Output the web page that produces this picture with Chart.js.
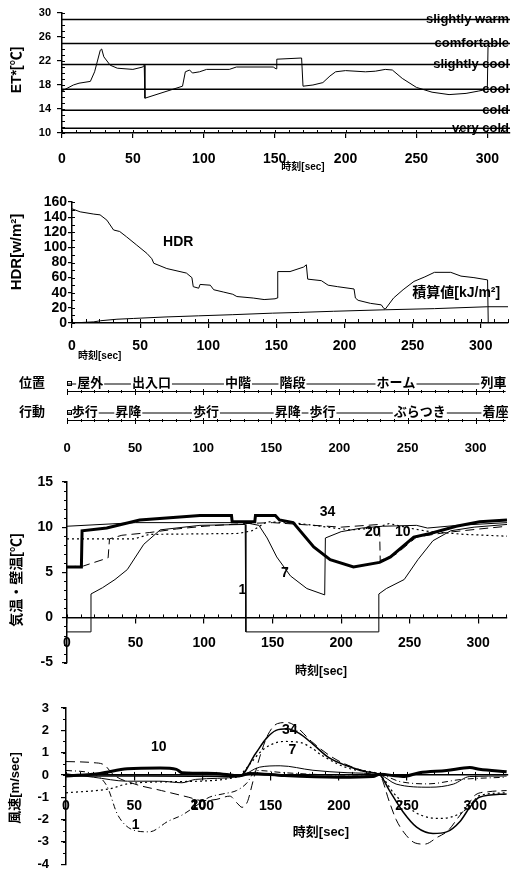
<!DOCTYPE html>
<html lang="ja"><head><meta charset="utf-8"><title>chart</title>
<script src="https://cdn.jsdelivr.net/npm/chart.js@4.4.1/dist/chart.umd.min.js"></script>
<style>
html,body{margin:0;padding:0;background:#fff;overflow:hidden}
#wrap{position:relative;width:515px;height:880px;overflow:hidden;background:#fff}
canvas{position:absolute;left:0}
</style></head><body><div id="wrap">
<canvas id="c1" width="515" height="180" style="top:0px"></canvas>
<canvas id="c2" width="515" height="190" style="top:180px"></canvas>
<canvas id="c3" width="515" height="88" style="top:370px"></canvas>
<canvas id="c4" width="515" height="250" style="top:430px"></canvas>
<canvas id="c5" width="515" height="208" style="top:676px"></canvas>
</div>
<script>
// ================= DATA =================
const xTicks = [0, 50, 100, 150, 200, 250, 300];

// Panel 1: ET*
const etTicks = [10, 14, 18, 22, 26, 30];
const comfortNames = ['slightly warm', 'comfortable', 'slightly cool', 'cool', 'cold', 'very cold'];
const comfortLevels = [28.9, 24.9, 21.4, 17.3, 13.8, 10.8];
const etT = [0, 8, 12, 20, 23, 27, 28, 29.5, 34, 39, 50, 57, 58, 58.5, 85, 87, 90, 92, 97, 102, 118, 123, 149, 151, 151.5, 169, 170, 177, 184, 189, 193, 200, 214, 221, 228, 233, 240, 250, 261, 273, 285, 294, 300, 300.5];
const etV = [17.0, 18.0, 18.3, 18.6, 20.2, 23.8, 24.0, 22.7, 21.3, 20.8, 20.6, 21.0, 21.3, 15.8, 17.8, 20.2, 20.5, 20.0, 20.2, 20.6, 20.6, 21.0, 21.0, 20.7, 22.3, 22.5, 17.8, 18.0, 18.4, 19.5, 20.2, 20.4, 20.2, 20.3, 20.6, 20.5, 19.1, 17.6, 16.8, 16.4, 16.6, 17.0, 17.3, 24.4];

// Panel 2: HDR
const hdrTicks = [0, 20, 40, 60, 80, 100, 120, 140, 160];
const hdrT = [0, 6, 16, 20.6, 25.6, 30.5, 35, 40, 47.5, 55, 58.6, 60, 69.6, 84, 88, 89, 93, 94, 101.5, 104, 111, 118, 121, 133, 141, 149, 150.6, 151, 160, 170, 172, 173, 183, 188, 195, 207, 208, 210, 219, 227, 229, 230, 236, 243, 251, 259, 266, 278, 285.5, 295, 305, 305.5];
const hdrV = [151, 147, 144, 143, 136, 123, 121, 114, 103, 92, 85, 79, 72, 66, 60, 48, 46, 51, 50, 44, 41, 38, 35, 33, 31, 32, 33, 68, 68, 74, 77, 58, 56, 50, 48, 45, 33, 30, 26, 24, 19, 18.5, 33, 44, 55, 61, 67, 67, 62, 60, 57, 0];
const cumT = [0, 16, 21, 33, 45, 69, 93, 118, 147, 167, 192, 230, 266, 305, 321];
const cumV = [0, 1.5, 3, 5, 6, 8, 9.5, 11, 13, 14, 15.5, 17.5, 19, 21.5, 21.5];
const hdrLabText = ['HDR', '積算値[kJ/m²]'];
const hdrLabT = [78, 282];
const hdrLabV = [107, 40];

// Panel 3: position / action
const rowLabels = ['位置', '行動'];
const posNames = ['屋外', '出入口', '中階', '階段', 'ホーム', '列車'];
const posT = [17, 62, 125.5, 165.5, 241.5, 313];
const actNames = ['歩行', '昇降', '歩行', '昇降', '歩行', 'ぶらつき', '着座'];
const actT = [13, 45, 102, 162, 187.5, 259, 314.5];

// Panel 4: air / wall temperature
const tempTicks = [-5, 0, 5, 10, 15];
const t10 = [0, 10.5, 11, 29, 53, 97, 120, 120.5, 137, 137.5, 152, 155, 165, 180, 192, 209, 228, 236, 253, 265, 284, 301, 321];
const v10 = [5.6, 5.6, 9.6, 9.9, 10.8, 11.3, 11.3, 10.6, 10.6, 11.3, 11.3, 10.8, 10.5, 7.8, 6.4, 5.6, 6.1, 6.7, 8.9, 9.3, 10.1, 10.6, 10.8];
const t1 = [0, 17, 17.5, 26, 35, 44, 56, 68, 97, 130, 130.5, 227, 227.5, 233, 246, 256, 267, 280, 297, 321];
const v1 = [-1.6, -1.6, 2.6, 3.3, 4.2, 5.3, 8.1, 9.7, 10.2, 10.3, -1.6, -1.6, 2.6, 3.2, 4.2, 6.4, 8.5, 9.6, 10.0, 10.3];
const t7 = [0, 50, 100, 130, 140, 146, 153, 163, 175, 188, 188.5, 200, 215, 230, 255, 263, 285, 321];
const v7 = [10.1, 10.5, 10.5, 10.5, 10.2, 8.8, 6.7, 4.6, 3.2, 2.5, 8.8, 9.5, 9.9, 10.1, 10.2, 9.9, 10.2, 10.5];
const t20 = [0, 12, 26, 30, 31, 40, 60, 80, 100, 130, 150, 170, 200, 228, 228.5, 240, 255, 276, 301, 321];
const v20 = [5.6, 5.7, 6.4, 6.6, 8.7, 9.1, 9.4, 9.8, 10.1, 10.4, 10.5, 10.3, 10.0, 10.3, 6.3, 7.0, 8.9, 9.4, 9.8, 10.1];
const t34 = [0, 49, 60, 125, 135, 146, 170, 195, 207, 225, 235, 253, 265, 290, 321];
const v34 = [8.7, 8.7, 9.2, 9.3, 9.6, 10.6, 10.4, 9.9, 9.7, 9.9, 10.4, 9.8, 9.5, 9.2, 9.0];
const tempLabText = ['34', '20', '10', '7', '1'];
const tempLabT = [190, 223, 245, 159, 128];
const tempLabV = [11.7, 9.5, 9.5, 4.9, 3.0];

// Panel 5: wind speed
const windTicks = [-4, -3, -2, -1, 0, 1, 2, 3];
const w10T = [0, 25, 45, 69, 81, 85, 109, 127, 135, 160, 200, 225, 230, 247, 259, 279, 296, 303, 323];
const w10V = [-0.05, 0.07, 0.28, 0.31, 0.25, 0.1, 0.07, -0.04, 0.07, -0.03, -0.1, -0.07, 0.03, -0.07, 0.1, 0.2, 0.33, 0.26, 0.14];
const wThinT = [0, 20, 45, 69, 85, 95, 127, 142, 157, 181, 206, 230, 242, 267, 284, 296, 323];
const wThinV = [0.05, -0.1, -0.28, -0.28, -0.35, -0.2, -0.07, 0.35, 0.41, 0.21, 0.1, 0, -0.41, -0.55, -0.41, -0.07, -0.05];
const w34T = [0, 60, 127, 139, 147, 154, 162, 171, 181, 193, 206, 220, 230, 237, 247, 257, 269, 279, 289, 296, 303, 323];
const w34V = [-0.05, -0.05, -0.07, 0.96, 1.65, 2.0, 2.07, 1.86, 1.38, 0.76, 0.41, 0.14, 0, -0.69, -1.65, -2.34, -2.62, -2.55, -2.07, -1.45, -1.0, -0.85];
const w7T = [0, 32, 45, 80, 125, 135, 142, 150, 160, 172, 181, 188, 210, 230, 240, 250, 260, 275, 289, 296, 303, 323];
const w7V = [-0.8, -0.62, -0.4, -0.3, -0.1, 0.5, 1.0, 1.35, 1.5, 1.45, 1.17, 0.86, 0.25, 0, -0.8, -1.4, -1.8, -1.95, -1.72, -1.38, -0.93, -0.8];
const w1T = [0, 20, 30, 38, 51, 61, 75, 85, 95, 105, 115, 125, 132, 140, 160, 200, 230, 245, 265, 290, 323];
const w1V = [0.2, 0.05, -0.5, -1.8, -2.5, -2.55, -2.07, -1.8, -1.4, -1.0, -0.85, -0.7, -0.4, 0.2, 0.1, 0, 0, -0.3, -0.4, -0.2, -0.1];
const w20T = [0, 20, 28, 35, 50, 70, 90, 100, 110, 120, 126, 129, 133, 137, 142, 148, 155, 162, 168, 180, 195, 210, 225, 230, 237, 242, 248, 256, 263, 272, 280, 287, 294, 300, 310, 323];
const w20V = [0.6, 0.55, 0.45, 0.0, -0.4, -0.7, -1.0, -1.15, -1.1, -0.95, -1.3, -1.45, -1.2, -0.3, 0.8, 1.8, 2.3, 2.35, 2.2, 1.5, 0.8, 0.35, 0.1, 0, -1.2, -2.0, -2.6, -3.05, -3.1, -2.8, -2.5, -1.95, -1.4, -0.9, -0.75, -0.7];
const windLabText = ['10', '34', '7', '1', '20'];
const windLabT = [68, 164, 166, 51, 97];
const windLabV = [1.24, 2.0, 1.1, -2.27, -1.36];

// ================= HELPERS =================
const MIX = '"Liberation Sans", "Noto Sans CJK JP", Arial, sans-serif';
const bold = s => `bold ${s}px ${MIX}`;
const pts = (T, V) => T.map((t, i) => ({x: t, y: V[i]}));
function line(label, T, V, w, dash, extra) {
  return Object.assign({label, data: pts(T, V), borderColor: '#000', backgroundColor: '#000',
    borderWidth: w, borderDash: dash || [], pointRadius: 0, fill: false, tension: 0}, extra || {});
}
function xAxis(max, h, pad, fs, extra) {
  return Object.assign({
    type: 'linear', min: 0, max: max, position: 'bottom',
    afterBuildTicks: s => { s.ticks = xTicks.map(v => ({value: v})); },
    afterFit: s => { s.height = h; },
    border: {display: true, color: '#000', width: 1.5},
    grid: {display: true, drawOnChartArea: false, drawTicks: true, tickLength: 5, color: '#000', lineWidth: 1.2},
    ticks: {color: '#000', font: {family: MIX, size: fs, weight: 'bold'}, padding: pad, maxRotation: 0, autoSkip: false}
  }, extra || {});
}
function yAxis(min, max, tv, w, pad, fs, tl) {
  return {
    type: 'linear', min, max, position: 'left',
    afterBuildTicks: s => { s.ticks = tv.map(v => ({value: v})); },
    afterFit: s => { s.width = w; },
    border: {display: true, color: '#000', width: 1.5},
    grid: {display: true, drawOnChartArea: false, drawTicks: true, tickLength: tl, color: '#000', lineWidth: 1.2},
    ticks: {color: '#000', font: {family: MIX, size: fs, weight: 'bold'}, padding: pad, autoSkip: false}
  };
}
function opts(pad, scales) {
  return {responsive: false, animation: false, events: [], layout: {padding: pad},
    plugins: {legend: {display: false}, tooltip: {enabled: false}}, scales};
}
function makeDeco(cfg) {
  return {
    id: 'deco',
    afterDraw(chart) {
      const ctx = chart.ctx, xs = chart.scales.x, ys = chart.scales.y, ca = chart.chartArea;
      ctx.save();
      ctx.strokeStyle = '#000'; ctx.fillStyle = '#000'; ctx.lineWidth = 1;
      if (cfg.xMinor) {
        const yp = cfg.xMinor.at !== undefined ? ys.getPixelForValue(cfg.xMinor.at) : ca.bottom;
        ctx.beginPath();
        for (let v = 0; v <= xs.max + 1e-9; v += cfg.xMinor.step) {
          const px = Math.round(xs.getPixelForValue(v)) + 0.5;
          ctx.moveTo(px, yp); ctx.lineTo(px, yp - cfg.xMinor.len);
        }
        ctx.stroke();
      }
      if (cfg.yMinor) {
        ctx.beginPath();
        for (let v = ys.min; v <= ys.max + 1e-9; v += cfg.yMinor.step) {
          const py = Math.round(ys.getPixelForValue(v)) + 0.5;
          ctx.moveTo(ca.left, py); ctx.lineTo(ca.left + cfg.yMinor.len, py);
        }
        ctx.stroke();
      }
      if (cfg.levels) {
        ctx.font = cfg.levels.f; ctx.textAlign = 'right'; ctx.textBaseline = 'middle';
        cfg.levels.names.forEach((n, i) => ctx.fillText(n, ca.right - 1, ys.getPixelForValue(cfg.levels.values[i])));
      }
      if (cfg.rows) {
        const r = cfg.rows;
        r.names.forEach((names, ri) => {
          const y = Math.round(ys.getPixelForValue(ri));
          const y2 = y + r.gap;
          ctx.beginPath(); ctx.lineWidth = 1;
          ctx.moveTo(ca.left, y2 + 0.5); ctx.lineTo(ca.right, y2 + 0.5);
          for (let v = 0; v <= xs.max; v += 10) {
            const px = Math.round(xs.getPixelForValue(v)) + 0.5;
            const big = v % 50 === 0;
            ctx.moveTo(px, y2 - (big ? 2 : 1)); ctx.lineTo(px, y2 + (big ? 4 : 2));
          }
          ctx.stroke();
          ctx.font = r.f; ctx.textAlign = 'center'; ctx.textBaseline = 'middle';
          names.forEach((n, i) => {
            const px = xs.getPixelForValue(r.ts[ri][i]);
            const w = ctx.measureText(n).width;
            ctx.fillStyle = '#fff'; ctx.fillRect(px - w / 2 - 1, y - 7, w + 2, 12);
            ctx.fillStyle = '#000'; ctx.fillText(n, px, y - 1);
          });
          ctx.strokeRect(ca.left + 0.5, y - 2.5, 4, 4);
          ctx.font = r.lf; ctx.textAlign = 'right';
          ctx.fillText(r.labels[ri], ca.left - 22, y - 1);
        });
      }
      if (cfg.dataTexts) {
        const d = cfg.dataTexts;
        ctx.font = d.f; ctx.textAlign = 'center'; ctx.textBaseline = 'middle';
        d.texts.forEach((t, i) => ctx.fillText(t, xs.getPixelForValue(d.xs[i]), ys.getPixelForValue(d.ys[i])));
      }
      if (cfg.texts) {
        cfg.texts.forEach(t => {
          ctx.save(); ctx.font = t.f; ctx.textAlign = t.align || 'center'; ctx.textBaseline = 'middle';
          ctx.translate(t.x, t.y); if (t.rot) ctx.rotate(t.rot * Math.PI / 180);
          ctx.fillText(t.text, 0, 0); ctx.restore();
        });
      }
      ctx.restore();
    }
  };
}

// ================= PANEL 1 =================
const X1MAX = 316;
new Chart(document.getElementById('c1'), {
  type: 'line',
  data: {datasets: [
    ...comfortLevels.map((v, i) => line(comfortNames[i], [0, X1MAX], [v, v], 1.5)),
    line('ET*', etT, etV, 1)
  ]},
  options: opts({top: 13, right: 5, left: 0, bottom: 0},
    {x: xAxis(X1MAX, 47, 13, 14), y: yAxis(10, 30, etTicks, 62, 6, 11, 5)}),
  plugins: [makeDeco({
    xMinor: {step: 10, len: 3}, yMinor: {step: 1, len: 3},
    levels: {names: comfortNames, values: comfortLevels, f: bold(13)},
    texts: [{text: 'ET*[℃]', x: 17, y: 70, f: bold(14), rot: -90},
            {text: '時刻[sec]', x: 303, y: 167, f: bold(10)}]
  })]
});

// ================= PANEL 2 =================
new Chart(document.getElementById('c2'), {
  type: 'line',
  data: {datasets: [line('HDR', hdrT, hdrV, 1), line('積算値', cumT, cumV, 1)]},
  options: opts({top: 22, right: 7, left: 0, bottom: 0},
    {x: xAxis(320, 47, 10, 14), y: yAxis(0, 160, hdrTicks, 72, 1, 14, 4)}),
  plugins: [makeDeco({
    xMinor: {step: 10, len: 4}, yMinor: {step: 10, len: 3},
    dataTexts: {texts: hdrLabText, xs: hdrLabT, ys: hdrLabV, f: bold(14)},
    texts: [{text: 'HDR[w/m²]', x: 17, y: 72, f: bold(15), rot: -90},
            {text: '時刻[sec]', x: 78, y: 176, f: bold(10), align: 'left'}]
  })]
});

// ================= PANEL 3 =================
const rowLine = (lab, i) => ({label: lab, data: [{x: 0, y: i}, {x: 322, y: i}], borderColor: '#000',
  borderWidth: 1.2, pointRadius: 0, fill: false, clip: false});
new Chart(document.getElementById('c3'), {
  type: 'line',
  data: {datasets: rowLabels.map(rowLine)},
  options: opts({top: 14, right: 7, left: 67, bottom: 0}, {
    x: {type: 'linear', min: 0, max: 322, position: 'bottom',
      afterBuildTicks: s => { s.ticks = xTicks.map(v => ({value: v})); },
      afterFit: s => { s.height = 45; },
      border: {display: false}, grid: {display: false, drawTicks: false},
      ticks: {color: '#000', font: {family: MIX, size: 13, weight: 'bold'}, padding: 28, maxRotation: 0, autoSkip: false}},
    y: {type: 'linear', min: 0, max: 1, reverse: true, display: false}
  }),
  plugins: [makeDeco({rows: {labels: rowLabels, names: [posNames, actNames], ts: [posT, actT], gap: 7, f: bold(13), lf: bold(13)}})]
});

// ================= PANEL 4 =================
new Chart(document.getElementById('c4'), {
  type: 'line',
  data: {datasets: [
    line('34', t34, v34, 1.2, [2, 3]),
    line('20', t20, v20, 1, [9, 5]),
    line('7', t7, v7, 1),
    line('1', t1, v1, 1),
    line('10', t10, v10, 3)
  ]},
  options: opts({top: 52, right: 8, left: 0, bottom: 0},
    {x: xAxis(321, 10, 12, 14, {position: {y: 0}}), y: yAxis(-5, 15, tempTicks, 67, 9, 14, 5)}),
  plugins: [makeDeco({
    xMinor: {step: 10, len: 3, at: 0}, yMinor: {step: 1, len: -3},
    dataTexts: {texts: tempLabText, xs: tempLabT, ys: tempLabV, f: bold(14)},
    texts: [{text: '気温・壁温[℃]', x: 17, y: 150, f: bold(14), rot: -90},
            {text: '時刻[sec]', x: 321, y: 242, f: bold(12)}]
  })]
});

// ================= PANEL 5 =================
const smooth = {cubicInterpolationMode: 'monotone'};
new Chart(document.getElementById('c5'), {
  type: 'line',
  data: {datasets: [
    line('20', w20T, w20V, 1, [9, 5], smooth),
    line('1', w1T, w1V, 1, [6, 3, 1, 3], smooth),
    line('7', w7T, w7V, 1.2, [2, 3], smooth),
    line('34', w34T, w34V, 1.5, [], smooth),
    line('thin', wThinT, wThinV, 1, [], smooth),
    line('10', w10T, w10V, 3, [], smooth)
  ]},
  options: opts({top: 32, right: 7, left: 0, bottom: 0},
    {x: xAxis(324, 7, 18, 14, {position: {y: 0}}), y: yAxis(-4, 3, windTicks, 66, 12, 13, 5)}),
  plugins: [makeDeco({
    xMinor: {step: 10, len: 3, at: 0}, yMinor: {step: 0.5, len: -3},
    dataTexts: {texts: windLabText, xs: windLabT, ys: windLabV, f: bold(14)},
    texts: [{text: '風速[m/sec]', x: 15, y: 112, f: bold(13), rot: -90},
            {text: '時刻[sec]', x: 321, y: 156, f: bold(13)}]
  })]
});
</script></body></html>
